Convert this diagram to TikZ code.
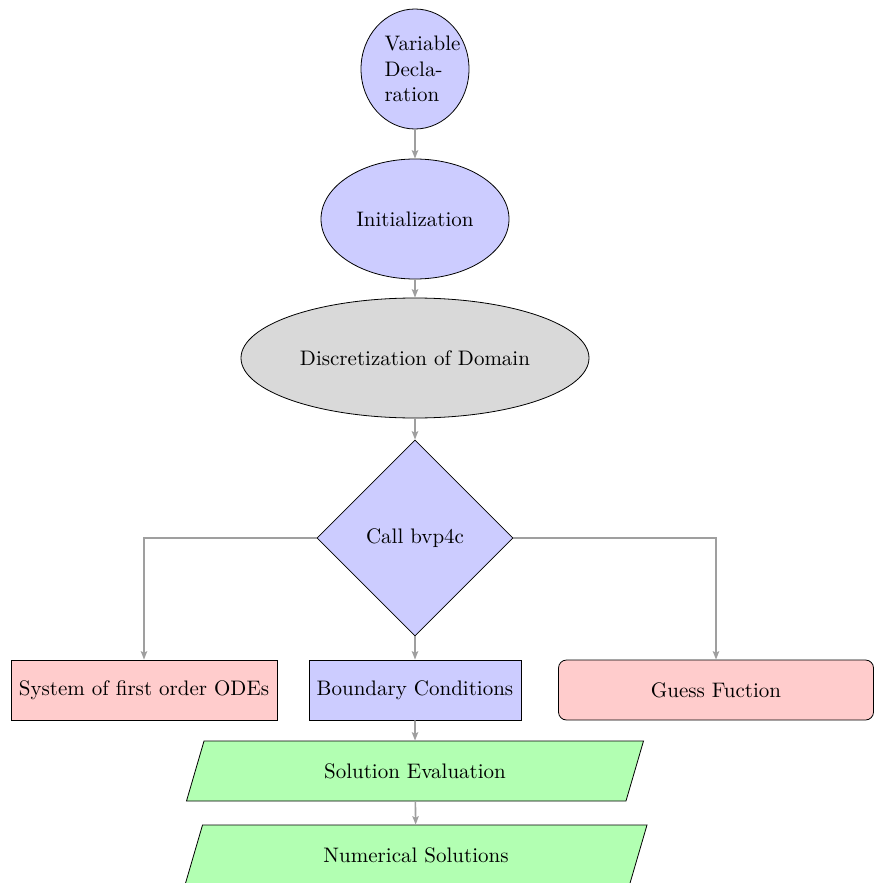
\documentclass[tikz,border=0pt]{standalone}
\usetikzlibrary{shapes.geometric,arrows.meta}

\tikzset{
  flowline/.style = {draw=gray!75, thick, -{Stealth[length=4.2pt,width=3.2pt,inset=0.8pt]}},
  bluebub/.style = {ellipse, draw, fill=blue!20},
  graybub/.style = {ellipse, draw, fill=gray!30},
  decision/.style = {diamond, draw, fill=blue!20, minimum size=98pt, inner sep=0pt},
  redbox/.style = {rectangle, draw, fill=red!20, minimum height=30pt},
  bluebox/.style = {rectangle, draw, fill=blue!20, minimum height=30pt},
  iobox/.style = {trapezium, trapezium left angle=58.5, trapezium right angle=121.5,
    trapezium stretches body, draw, fill=green!30, minimum height=30pt}
}

\begin{document}
\begin{tikzpicture}[x = 0.5pt, y = -0.5pt, font=\fontsize{10.5pt}{12.7pt}\selectfont]
\useasboundingbox (0, 0) rectangle (873, 883);

\node[bluebub, minimum width=54pt, minimum height=60pt, text width=30.5pt, inner sep=0pt] (vardecl) at (415, 69) {Variable Declaration};
\node[bluebub, minimum width=94pt, minimum height=60pt] (init) at (415, 219) {Initialization};
\node[graybub, minimum width=174pt, minimum height=60pt] (discr) at (415, 358) {Discretization of Domain};
\node[decision] (bvp) at (415, 538) {Call bvp4c};

\node[redbox, minimum width=133pt] (odes) at (144, 690) {System of first order ODEs};
\node[bluebox, minimum width=106pt] (bcond) at (415, 690) {Boundary Conditions};
\node[redbox, rounded corners=4pt, minimum width=157.5pt] (guess) at (716, 690) {Guess Fuction};

\node[iobox, minimum width=228.5pt] (soleval) at (415, 771) {Solution Evaluation};
\node[iobox, minimum width=231pt] (numsol) at (416, 855) {Numerical Solutions};

\draw[flowline] (vardecl) -- (init);
\draw[flowline] (init) -- (discr);
\draw[flowline] (discr) -- (bvp);
\draw[flowline] (bvp.west) -| (odes.north);
\draw[flowline] (bvp.south) -- (bcond.north);
\draw[flowline] (bvp.east) -| (guess.north);
\draw[flowline] (bcond) -- (soleval);
\draw[flowline] (soleval) -- (numsol);
\end{tikzpicture}
\end{document}
